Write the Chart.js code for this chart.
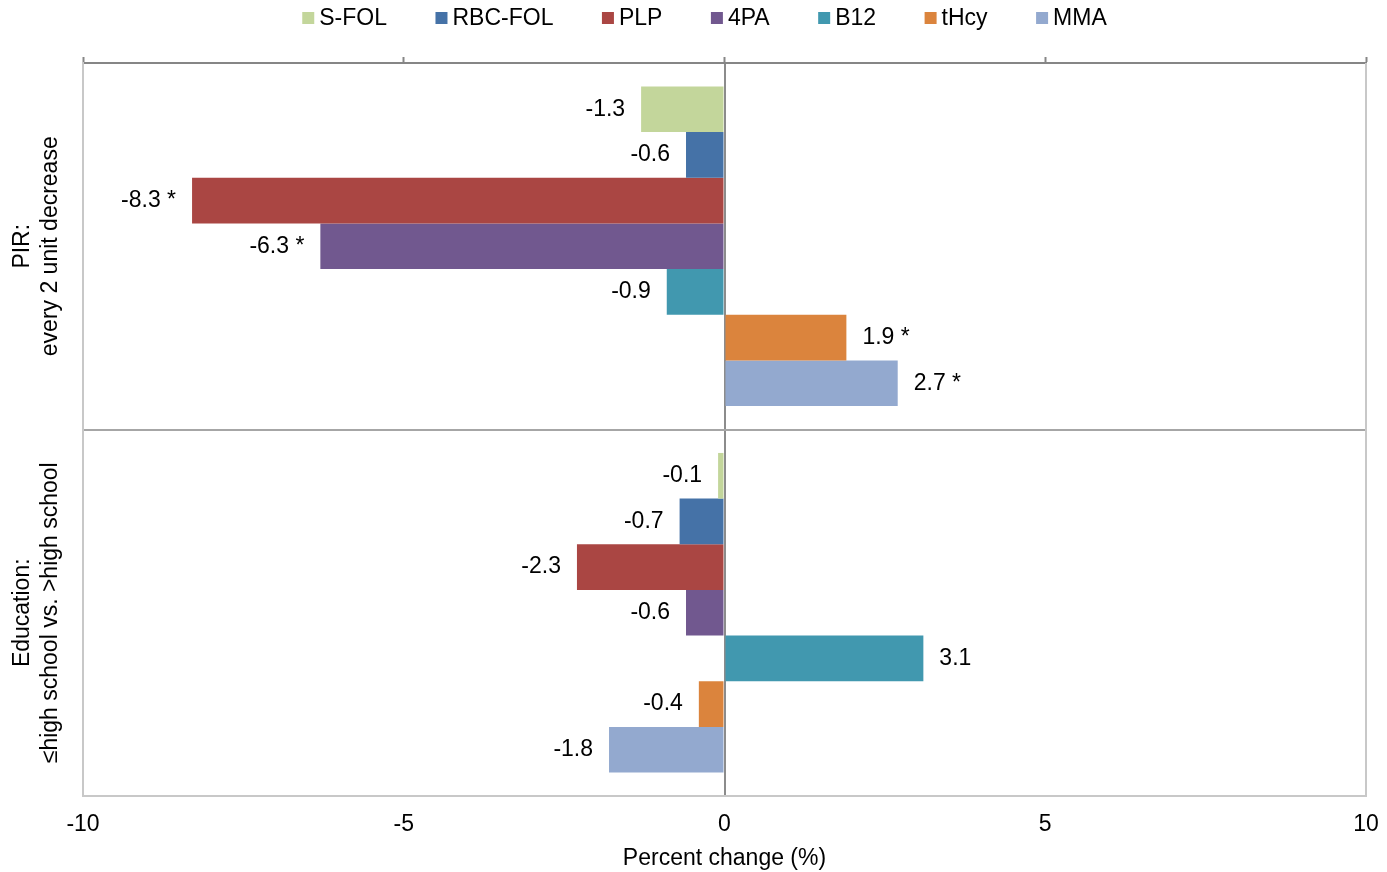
<!DOCTYPE html>
<html>
<head>
<meta charset="utf-8">
<script src="https://cdn.jsdelivr.net/npm/chart.js@4.4.1/dist/chart.umd.min.js"></script>
<style>
  html, body { margin: 0; padding: 0; background: #fff; }
  #wrap { width: 1387px; height: 872px; position: relative; }
</style>
</head>
<body>
<div id="wrap"><canvas id="chart"></canvas></div>
<script>
// categorii (etichete pe doua randuri, rotite)
const categories = ["PIR", "Education"];
const categoryLines = [
    ["PIR:", "every 2 unit decrease"],
    ["Education:", "\u2264high school vs. >high school"]
];

const seriesNames = ["S-FOL", "RBC-FOL", "PLP", "4PA", "B12", "tHcy", "MMA"];
const seriesColors = ["#c3d69b", "#4572a7", "#aa4643", "#71588f", "#4198af", "#db843d", "#93a9cf"];

// valori: [PIR, Education]
const sFol = [-1.3, -0.1];
const rbcFol = [-0.6, -0.7];
const plp = [-8.3, -2.3];
const fourPa = [-6.3, -0.6];
const b12 = [-0.9, 3.1];
const tHcy = [1.9, -0.4];
const mma = [2.7, -1.8];

// etichete de date (cu * pentru semnificatie)
const sFolLabels = ["-1.3", "-0.1"];
const rbcFolLabels = ["-0.6", "-0.7"];
const plpLabels = ["-8.3 *", "-2.3"];
const fourPaLabels = ["-6.3 *", "-0.6"];
const b12Labels = ["-0.9", "3.1"];
const tHcyLabels = ["1.9 *", "-0.4"];
const mmaLabels = ["2.7 *", "-1.8"];

const xMin = -10, xMax = 10, xStep = 5;
const xTitle = "Percent change (%)";

const allValues = [sFol, rbcFol, plp, fourPa, b12, tHcy, mma];
const allLabels = [sFolLabels, rbcFolLabels, plpLabels, fourPaLabels, b12Labels, tHcyLabels, mmaLabels];

const FONT = "'Liberation Sans', Arial, sans-serif";
Chart.defaults.font.family = FONT;
Chart.defaults.color = "#000";

// etichete valori la capatul barelor
const valueLabels = {
    id: "valueLabels",
    afterDatasetsDraw(chart) {
        const ctx = chart.ctx;
        ctx.save();
        ctx.font = "23px " + FONT;
        ctx.fillStyle = "#000";
        ctx.textBaseline = "middle";
        chart.data.datasets.forEach((ds, di) => {
            const meta = chart.getDatasetMeta(di);
            meta.data.forEach((bar, i) => {
                const v = ds.data[i];
                if (v < 0) {
                    ctx.textAlign = "right";
                    ctx.fillText(allLabels[di][i], bar.x - 16, bar.y);
                } else {
                    ctx.textAlign = "left";
                    ctx.fillText(allLabels[di][i], bar.x + 16, bar.y);
                }
            });
        });
        ctx.restore();
    }
};

// etichete categorii rotite + chenar dreapta
const categoryText = {
    id: "categoryText",
    afterDraw(chart) {
        const ctx = chart.ctx;
        const area = chart.chartArea;
        const yScale = chart.scales.y;
        ctx.save();
        ctx.strokeStyle = "#c8c8c8";
        ctx.lineWidth = 2;
        ctx.beginPath();
        ctx.moveTo(area.right, area.top);
        ctx.lineTo(area.right, area.bottom);
        ctx.stroke();

        ctx.font = "23px " + FONT;
        ctx.fillStyle = "#000";
        ctx.textAlign = "center";
        ctx.textBaseline = "middle";
        categoryLines.forEach((lines, i) => {
            const cy = yScale.getPixelForValue(i);
            lines.forEach((txt, li) => {
                ctx.save();
                ctx.translate(area.left - 60 + li * 28, cy);
                ctx.rotate(-Math.PI / 2);
                ctx.fillText(txt, 0, 0);
                ctx.restore();
            });
        });
        ctx.restore();
    }
};

// legenda sus
const topLegend = {
    id: "topLegend",
    afterDraw(chart) {
        const ctx = chart.ctx;
        ctx.save();
        ctx.font = "23px " + FONT;
        const box = 12, gap = 5, space = 48.5;
        const widths = seriesNames.map(n => ctx.measureText(n).width);
        let total = 0;
        widths.forEach((w, i) => { total += box + gap + w + (i < widths.length - 1 ? space : 0); });
        let x = chart.width / 2 + 11 - total / 2;
        const cy = 18;
        ctx.textBaseline = "middle";
        ctx.textAlign = "left";
        seriesNames.forEach((n, i) => {
            ctx.fillStyle = seriesColors[i];
            ctx.fillRect(x, cy - box / 2, box, box);
            ctx.fillStyle = "#000";
            ctx.fillText(n, x + box + gap, cy + 1);
            x += box + gap + widths[i] + space;
        });
        ctx.restore();
    }
};

const datasets = seriesNames.map((name, i) => ({
    label: name,
    data: allValues[i],
    backgroundColor: seriesColors[i],
    borderWidth: 0,
    barPercentage: 1,
    categoryPercentage: 0.872
}));

new Chart(document.getElementById("chart"), {
    type: "bar",
    data: { labels: categories, datasets: datasets },
    plugins: [valueLabels, categoryText, topLegend],
    options: {
        indexAxis: "y",
        responsive: true,
        maintainAspectRatio: false,
        animation: false,
        layout: { padding: { top: 40, right: 21, left: 0, bottom: 0 } },
        plugins: {
            legend: { display: false },
            tooltip: { enabled: false }
        },
        scales: {
            x: {
                type: "linear",
                position: "bottom",
                min: xMin,
                max: xMax,
                ticks: { stepSize: xStep, font: { size: 23 }, color: "#000", padding: 15 },
                grid: {
                    drawTicks: false,
                    color: (c) => (c.tick && c.tick.value === 0 ? "#8c8c8c" : "rgba(0,0,0,0)"),
                    lineWidth: 2
                },
                border: { color: "#c8c8c8", width: 2 },
                title: { display: true, text: xTitle, font: { size: 23 }, color: "#000", padding: { top: 0, bottom: 0 } },
                afterFit: (s) => { s.height = 76; s.paddingLeft = 0; s.paddingRight = 0; }
            },
            x2: {
                type: "linear",
                position: "top",
                min: xMin,
                max: xMax,
                ticks: { stepSize: xStep, display: false },
                grid: { drawOnChartArea: false, tickLength: 6, tickColor: "#868686", tickWidth: 2, color: "#868686" },
                border: { color: "#868686", width: 2 },
                afterFit: (s) => { s.height = 23; s.paddingLeft = 0; s.paddingRight = 0; }
            },
            y: {
                ticks: { display: false },
                grid: {
                    drawTicks: false,
                    color: (c) => (c.index === 1 ? "#a6a6a6" : "rgba(0,0,0,0)"),
                    lineWidth: 2
                },
                border: { color: "#c8c8c8", width: 2 },
                afterFit: (s) => { s.width = 83; }
            }
        }
    }
});
</script>
</body>
</html>
